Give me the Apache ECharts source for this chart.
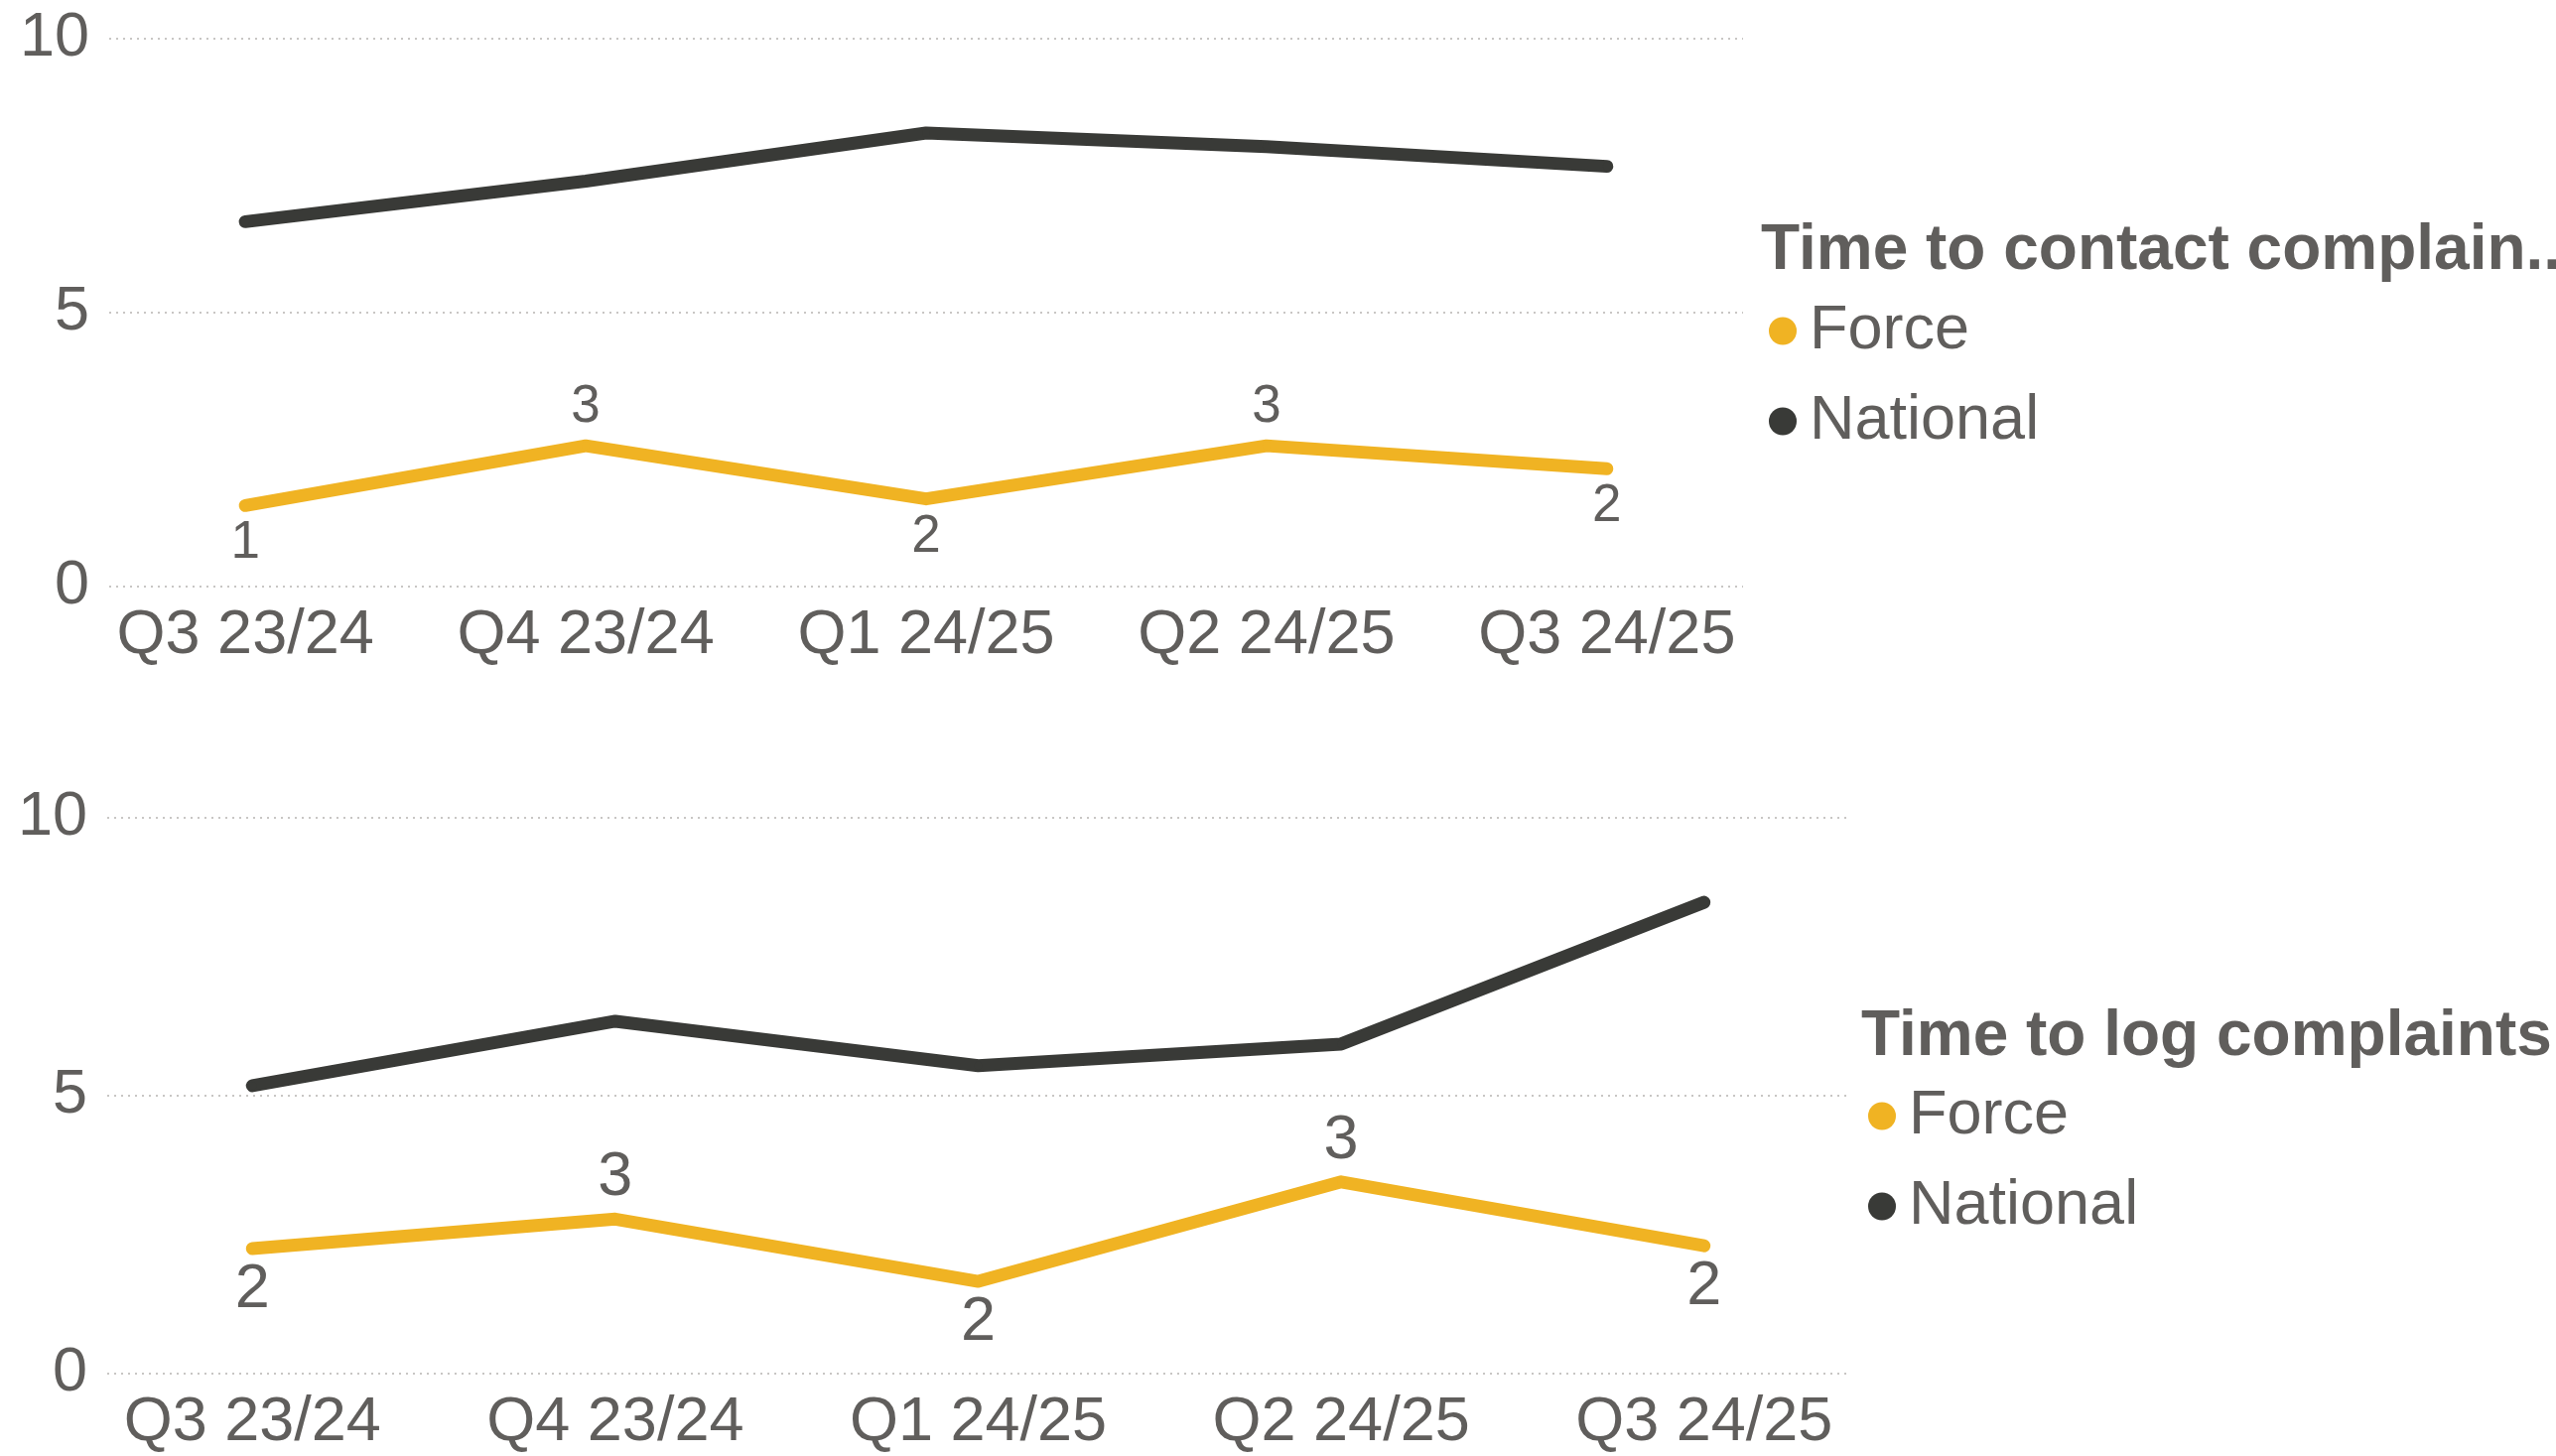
<!DOCTYPE html>
<html>
<head>
<meta charset="utf-8">
<script src="https://cdn.jsdelivr.net/npm/echarts@6/dist/echarts.min.js"></script>
<style>
  html, body { margin: 0; padding: 0; background: #ffffff; }
  #chart { width: 2575px; height: 1467px; }
</style>
</head>
<body>
<div id="chart"></div>
<script>
// Quarters shown on both panels
const quarters = ['Q3 23/24', 'Q4 23/24', 'Q1 24/25', 'Q2 24/25', 'Q3 24/25'];

// Time to contact complainants (days)
const contactForce = [1.48, 2.57, 1.60, 2.57, 2.15];
const contactNational = [6.66, 7.40, 8.28, 8.03, 7.67];

// Time to log complaints (days)
const logForce = [2.25, 2.78, 1.66, 3.45, 2.30];
const logNational = [5.18, 6.34, 5.54, 5.93, 8.48];

// Where each Force value label sits relative to its point
const contactLabelSide = ['bottom', 'top', 'bottom', 'top', 'bottom'];
const logLabelSide = ['bottom', 'top', 'bottom', 'top', 'bottom'];

const yTicks = [0, 5, 10];

const FONT = "'Liberation Sans', Arial, sans-serif";
const TEXT = '#605E5C';
const FORCE_COLOR = '#F0B323';
const NATIONAL_COLOR = '#393A37';

function pairs(values) {
  return values.map((v, i) => [i, v]);
}

function forceData(values, sides) {
  return values.map((v, i) => ({ value: [i, v], label: { position: sides[i] } }));
}

function xAxisFor(gridIndex) {
  return {
    type: 'value', gridIndex, min: -0.4, max: 4.4,
    axisLine: { show: false }, axisTick: { show: false }, splitLine: { show: false },
    axisLabel: {
      customValues: quarters.map((q, i) => i),
      formatter: v => quarters[Math.round(v)],
      color: TEXT, fontSize: 63, fontFamily: FONT, margin: 18
    }
  };
}

function yAxisFor(gridIndex) {
  return {
    type: 'value', gridIndex, min: yTicks[0], max: yTicks[yTicks.length - 1], interval: 5,
    axisLine: { show: false }, axisTick: { show: false },
    splitLine: { show: true, lineStyle: { color: '#C8C6C4', width: 2, type: [2, 5] } },
    axisLabel: { color: TEXT, fontSize: 63, fontFamily: FONT, margin: 20 }
  };
}

function lineSeries(name, idx, data, color, labelSize, labelDist, withLabels) {
  return {
    name, type: 'line', xAxisIndex: idx, yAxisIndex: idx, data,
    symbol: 'circle', symbolSize: 8, showSymbol: true,
    itemStyle: { color, borderWidth: 0 },
    lineStyle: { color, width: 13, cap: 'round', join: 'round' },
    emphasis: { disabled: true },
    label: withLabels ? {
      show: true, distance: labelDist,
      formatter: p => Math.round(p.value[1]),
      color: TEXT, fontSize: labelSize, fontFamily: FONT
    } : { show: false },
    z: name === 'Force' ? 3 : 2,
    animation: false
  };
}

function legendAt(left, top) {
  return {
    orient: 'vertical', left, top, padding: 0,
    icon: 'circle', itemWidth: 28, itemHeight: 28, itemGap: 28,
    data: ['Force', 'National'],
    textStyle: { color: TEXT, fontSize: 63, fontFamily: FONT, padding: [0, 0, 0, 8] },
    selectedMode: false
  };
}

function titleAt(text, left, top) {
  return {
    text, left, top, padding: 0,
    textStyle: { color: TEXT, fontSize: 64, fontWeight: 'bold', fontFamily: FONT }
  };
}

const chart = echarts.init(document.getElementById('chart'), null, { renderer: 'canvas' });
chart.setOption({
  backgroundColor: '#ffffff',
  animation: false,
  title: [
    titleAt('Time to contact complain...', 1774, 221),
    titleAt('Time to log complaints', 1875, 1013)
  ],
  legend: [legendAt(1782, 302), legendAt(1882, 1093)],
  grid: [
    { left: 110, right: 819, top: 39, height: 552 },
    { left: 108, right: 712, top: 824, height: 560 }
  ],
  xAxis: [xAxisFor(0), xAxisFor(1)],
  yAxis: [yAxisFor(0), yAxisFor(1)],
  series: [
    lineSeries('National', 0, pairs(contactNational), NATIONAL_COLOR, 53, 6, false),
    lineSeries('Force', 0, forceData(contactForce, contactLabelSide), FORCE_COLOR, 53, 8, true),
    lineSeries('National', 1, pairs(logNational), NATIONAL_COLOR, 63, 6, false),
    lineSeries('Force', 1, forceData(logForce, logLabelSide), FORCE_COLOR, 63, 6, true)
  ]
});
</script>
</body>
</html>
